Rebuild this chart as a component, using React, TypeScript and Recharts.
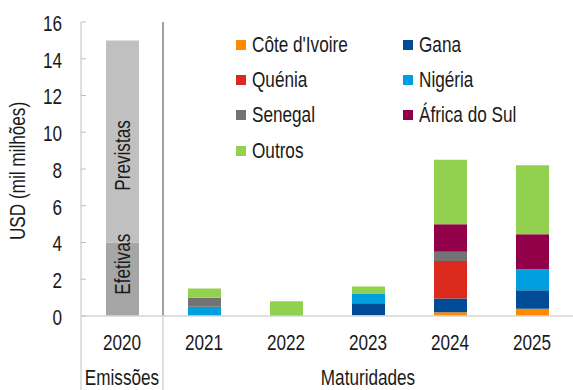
import { BarChart, Bar, XAxis, YAxis, ReferenceLine, LabelList } from 'recharts';

const years = ['2020', '2021', '2022', '2023', '2024', '2025'];
const yTicks = [0, 2, 4, 6, 8, 10, 12, 14, 16];

// issuance in 2020 (actual + planned)
const efetivas = [4, 0, 0, 0, 0, 0];
const previstas = [11, 0, 0, 0, 0, 0];

// maturities by country
const coteIvoire = [0, 0, 0.05, 0.05, 0.2, 0.4];
const gana = [0, 0, 0, 0.65, 0.75, 1.0];
const quenia = [0, 0, 0, 0, 2.05, 0];
const nigeria = [0, 0.5, 0, 0.5, 0, 1.15];
const senegal = [0, 0.5, 0, 0, 0.5, 0];
const africaDoSul = [0, 0, 0, 0, 1.5, 1.9];
const outros = [0, 0.5, 0.75, 0.4, 3.5, 3.75];

const countries = [
  { key: 'cote', name: "Côte d'Ivoire", values: coteIvoire, color: '#ff8a00' },
  { key: 'gana', name: 'Gana', values: gana, color: '#004c97' },
  { key: 'quenia', name: 'Quénia', values: quenia, color: '#dc291e' },
  { key: 'nigeria', name: 'Nigéria', values: nigeria, color: '#009fdf' },
  { key: 'senegal', name: 'Senegal', values: senegal, color: '#737373' },
  { key: 'africa', name: 'África do Sul', values: africaDoSul, color: '#93004a' },
  { key: 'outros', name: 'Outros', values: outros, color: '#92d050' },
];

const data = years.map((year, i) => {
  const row: Record<string, string | number> = {
    year,
    efetivas: efetivas[i],
    previstas: previstas[i],
  };
  countries.forEach((c) => {
    row[c.key] = c.values[i];
  });
  return row;
});

// no narrow face available, so Liberation Sans is squeezed horizontally
const FONT = '"Liberation Sans", Arial, sans-serif';
const FS = 22;
const SQUEEZE = 0.78;
const TEXT = '#1a1a1a';
const WIDTH = 573;
const HEIGHT = 390;
const Y_AXIS_W = 81;
const X_AXIS_H = 74;
const BAND = (WIDTH - Y_AXIS_W) / years.length;

type NarrowProps = {
  x: number;
  y: number;
  anchor?: 'start' | 'middle' | 'end';
  angle?: number;
  children: React.ReactNode;
};

const Narrow = ({ x, y, anchor = 'middle', angle = 0, children }: NarrowProps) => (
  <g transform={`translate(${x} ${y}) rotate(${angle}) scale(${SQUEEZE} 1)`}>
    <text
      x={0}
      y={0}
      textAnchor={anchor}
      dominantBaseline="central"
      fontFamily={FONT}
      fontSize={FS}
      fill={TEXT}
    >
      {children}
    </text>
  </g>
);

const CategoryTick = ({ x, y, payload, index }: any) => (
  <g>
    <Narrow x={x} y={y + 26}>{payload.value}</Narrow>
    {index === 0 && (
      <>
        <line x1={x - BAND / 2} y1={y} x2={x - BAND / 2} y2={y + X_AXIS_H} stroke="#d6d6d6" strokeWidth={1.5} />
        <line x1={x + BAND / 2} y1={y} x2={x + BAND / 2} y2={y + X_AXIS_H} stroke="#d6d6d6" strokeWidth={1.5} />
        <Narrow x={x} y={y + 61}>Emissões</Narrow>
      </>
    )}
    {index === 3 && <Narrow x={x} y={y + 61}>Maturidades</Narrow>}
  </g>
);

const ValueTick = ({ x, y, payload }: any) => (
  <g>
    <line x1={x} y1={y} x2={x + 5} y2={y} stroke="#bfbfbf" />
    <Narrow x={x - 19} y={y + 1} anchor="end">{payload.value}</Narrow>
  </g>
);

const AxisTitle = ({ viewBox }: any) => (
  <Narrow x={17} y={viewBox.y + viewBox.height / 2 + 2} angle={-90}>
    USD (mil milhões)
  </Narrow>
);

// rotated caption inside a 2020 bar segment
const barText = (caption: string, shift: number) => (props: any) => {
  const { x, y, width, height } = props;
  if (!height) return null;
  return (
    <Narrow x={x + width / 2} y={y + height / 2 + shift} angle={-90}>
      {caption}
    </Narrow>
  );
};

const CountryLegend = () => (
  <div
    style={{
      position: 'absolute',
      left: 236,
      top: 27,
      display: 'grid',
      gridTemplateColumns: '167px 160px',
      fontFamily: FONT,
      fontSize: FS,
      color: TEXT,
    }}
  >
    {countries.map((c) => (
      <div key={c.key} style={{ display: 'flex', alignItems: 'center', height: 35.3 }}>
        <span
          style={{ width: 10, height: 10, background: c.color, marginRight: 6, display: 'inline-block', flex: 'none' }}
        />
        <span
          style={{
            display: 'inline-block',
            transform: `scaleX(${SQUEEZE})`,
            transformOrigin: 'left center',
            whiteSpace: 'nowrap',
          }}
        >
          {c.name}
        </span>
      </div>
    ))}
  </div>
);

export default function App() {
  return (
    <div style={{ position: 'absolute', left: 0, top: 0, width: WIDTH, height: HEIGHT, background: '#fff' }}>
      <BarChart
        width={WIDTH}
        height={HEIGHT}
        data={data}
        margin={{ top: 22, right: 0, bottom: 0, left: 0 }}
        barSize={33}
      >
        <XAxis
          dataKey="year"
          height={X_AXIS_H}
          axisLine={{ stroke: '#d6d6d6', strokeWidth: 1.5 }}
          tickLine={false}
          tickSize={0}
          tickMargin={0}
          interval={0}
          tick={<CategoryTick />}
        />
        <YAxis
          width={Y_AXIS_W}
          domain={[0, 16]}
          ticks={yTicks}
          axisLine={{ stroke: '#bfbfbf' }}
          tickLine={false}
          tickSize={0}
          tickMargin={0}
          tick={<ValueTick />}
          label={<AxisTitle />}
        />
        <ReferenceLine x="2020" position="end" stroke="#404040" />
        <Bar dataKey="efetivas" name="Efetivas" stackId="s" fill="#a6a6a6" isAnimationActive={false}>
          <LabelList dataKey="efetivas" content={barText('Efetivas', -15)} />
        </Bar>
        <Bar dataKey="previstas" name="Previstas" stackId="s" fill="#c0c0c0" isAnimationActive={false}>
          <LabelList dataKey="previstas" content={barText('Previstas', 14)} />
        </Bar>
        {countries.map((c) => (
          <Bar
            key={c.key}
            dataKey={c.key}
            name={c.name}
            stackId="s"
            fill={c.color}
            isAnimationActive={false}
          />
        ))}
      </BarChart>
      <CountryLegend />
    </div>
  );
}
